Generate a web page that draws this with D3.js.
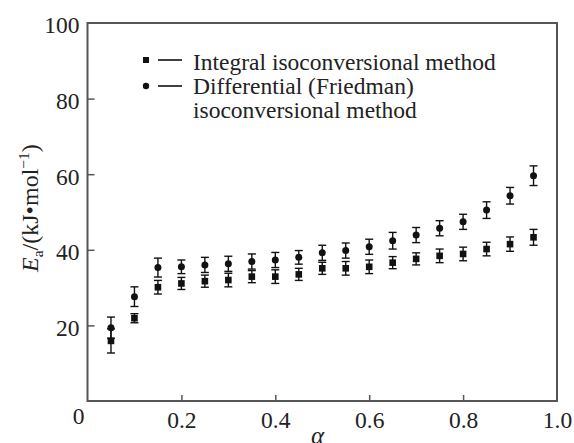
<!DOCTYPE html>
<html>
<head>
<meta charset="utf-8">
<script src="https://cdn.jsdelivr.net/npm/d3@7"></script>
<style>
  body { margin: 0; background: #fff; }
  svg { display: block; font-family: "Liberation Serif", "Times New Roman", "DejaVu Serif", serif; }
</style>
</head>
<body>
<svg id="chart" width="574" height="443"></svg>
<script>
// conversion degree
const alpha = [0.05, 0.1, 0.15, 0.2, 0.25, 0.3, 0.35, 0.4, 0.45, 0.5, 0.55, 0.6, 0.65, 0.7, 0.75, 0.8, 0.85, 0.9, 0.95];

// Ea values (kJ/mol)
const integralEa = [15.9, 21.9, 30.1, 31.1, 31.7, 32.0, 32.9, 32.9, 33.5, 35.1, 35.1, 35.5, 36.6, 37.6, 38.4, 38.9, 40.2, 41.5, 43.3];
const integralErr = [3.2, 1.2, 1.8, 1.6, 1.6, 1.8, 1.6, 1.8, 1.6, 1.6, 1.8, 1.8, 1.6, 1.6, 1.8, 1.8, 1.8, 1.9, 2.1];
const friedmanEa = [19.4, 27.6, 35.3, 35.5, 36.0, 36.3, 36.9, 37.3, 38.0, 39.2, 39.8, 40.8, 42.4, 43.9, 45.7, 47.4, 50.5, 54.3, 59.6];
const friedmanErr = [2.8, 2.6, 2.5, 1.8, 2.0, 2.0, 2.0, 2.0, 1.8, 2.0, 2.0, 2.0, 2.2, 2.0, 2.0, 2.0, 2.2, 2.2, 2.6];

const xTicks = [0.2, 0.4, 0.6, 0.8, 1.0];
const yTicks = [0, 20, 40, 60, 80, 100];

const svg = d3.select('#chart');
const x = d3.scaleLinear().domain([0, 1]).range([87.5, 557]);
const y = d3.scaleLinear().domain([0, 100]).range([401, 23]);
const ink = '#111';
const axisColor = '#555';
const serif = '"Liberation Serif", "Times New Roman", "DejaVu Serif", serif';
const fs = 23.5;

svg.append('rect').attr('width', 574).attr('height', 443).attr('fill', '#fff');

// axes (ticks point inward)
const gx = svg.append('g')
  .attr('transform', `translate(0,${y(0)})`)
  .call(d3.axisBottom(x).tickValues(xTicks).tickFormat(d3.format('.1f'))
    .tickSizeInner(-6).tickSizeOuter(0).tickPadding(10));

const gy = svg.append('g')
  .attr('transform', `translate(${x(0)},0)`)
  .call(d3.axisLeft(y).tickValues(yTicks).tickFormat(d3.format('d'))
    .tickSizeInner(-7).tickSizeOuter(0).tickPadding(8));

[gx, gy].forEach(g => {
  g.attr('font-family', serif);
  g.select('.domain').remove();
  g.selectAll('line').attr('stroke', axisColor).attr('stroke-width', 1.5);
  g.selectAll('text').attr('font-size', fs).attr('fill', '#222');
});
gy.selectAll('text').attr('dy', '0.42em');
gy.selectAll('.tick').filter(d => d === 0).select('text').attr('dy', '0.95em').attr('x', -3);
gy.selectAll('.tick').filter(d => d === 0).select('line').remove();
gy.selectAll('.tick').filter(d => d === 100).select('line').remove();
gx.selectAll('.tick').filter(d => d === 1).select('line').remove();

// frame
svg.append('rect')
  .attr('x', x(0)).attr('y', y(100))
  .attr('width', x(1) - x(0)).attr('height', y(0) - y(100))
  .attr('fill', 'none').attr('stroke', axisColor).attr('stroke-width', 2);

// error bars + markers
function drawSeries(vals, errs, shape) {
  const g = svg.append('g');
  const pts = alpha.map((a, i) => ({ a, v: vals[i], e: errs[i] }));
  const cap = 4;
  const bars = g.selectAll('g.eb').data(pts).enter().append('g')
    .attr('stroke', ink).attr('stroke-width', 1.4);
  bars.append('line')
    .attr('x1', d => x(d.a)).attr('x2', d => x(d.a))
    .attr('y1', d => y(d.v - d.e)).attr('y2', d => y(d.v + d.e));
  bars.append('line')
    .attr('x1', d => x(d.a) - cap).attr('x2', d => x(d.a) + cap)
    .attr('y1', d => y(d.v + d.e)).attr('y2', d => y(d.v + d.e));
  bars.append('line')
    .attr('x1', d => x(d.a) - cap).attr('x2', d => x(d.a) + cap)
    .attr('y1', d => y(d.v - d.e)).attr('y2', d => y(d.v - d.e));
  if (shape === 'square') {
    g.selectAll('rect').data(pts).enter().append('rect')
      .attr('x', d => x(d.a) - 3.3).attr('y', d => y(d.v) - 3.3)
      .attr('width', 6.6).attr('height', 6.6).attr('fill', ink);
  } else {
    g.selectAll('circle').data(pts).enter().append('circle')
      .attr('cx', d => x(d.a)).attr('cy', d => y(d.v))
      .attr('r', 3.5).attr('fill', ink);
  }
}
drawSeries(integralEa, integralErr, 'square');
drawSeries(friedmanEa, friedmanErr, 'circle');

// legend
const lg = svg.append('g');
lg.append('rect').attr('x', 143).attr('y', 57).attr('width', 6).attr('height', 6).attr('fill', ink);
lg.append('line').attr('x1', 158).attr('x2', 182).attr('y1', 60).attr('y2', 60).attr('stroke', ink).attr('stroke-width', 1.6);
lg.append('circle').attr('cx', 146).attr('cy', 86).attr('r', 3.2).attr('fill', ink);
lg.append('line').attr('x1', 158).attr('x2', 182).attr('y1', 86).attr('y2', 86).attr('stroke', ink).attr('stroke-width', 1.6);
const legendText = ['Integral isoconversional method', 'Differential (Friedman)', 'isoconversional method'];
lg.selectAll('text').data(legendText).enter().append('text')
  .attr('x', 193).attr('y', (d, i) => 70 + i * 24)
  .attr('font-family', serif).attr('font-size', fs).attr('fill', '#222')
  .text(d => d);

// axis titles
svg.append('text')
  .attr('x', x(0.49)).attr('y', 444)
  .attr('text-anchor', 'middle')
  .attr('font-family', serif)
  .attr('font-size', 25).attr('font-style', 'italic').attr('fill', '#222')
  .text('α');

const yl = svg.append('text')
  .attr('transform', 'translate(38,272) rotate(-90)')
  .attr('font-family', serif)
  .attr('font-size', 24).attr('fill', '#222');
yl.append('tspan').attr('font-style', 'italic').text('E');
yl.append('tspan').attr('font-size', 15.5).attr('dy', 5).text('a');
yl.append('tspan').attr('dy', -5).text('/(kJ•mol');
yl.append('tspan').attr('font-size', 15.5).attr('dy', -9).text('−1');
yl.append('tspan').attr('dy', 9).text(')');
</script>
</body>
</html>
